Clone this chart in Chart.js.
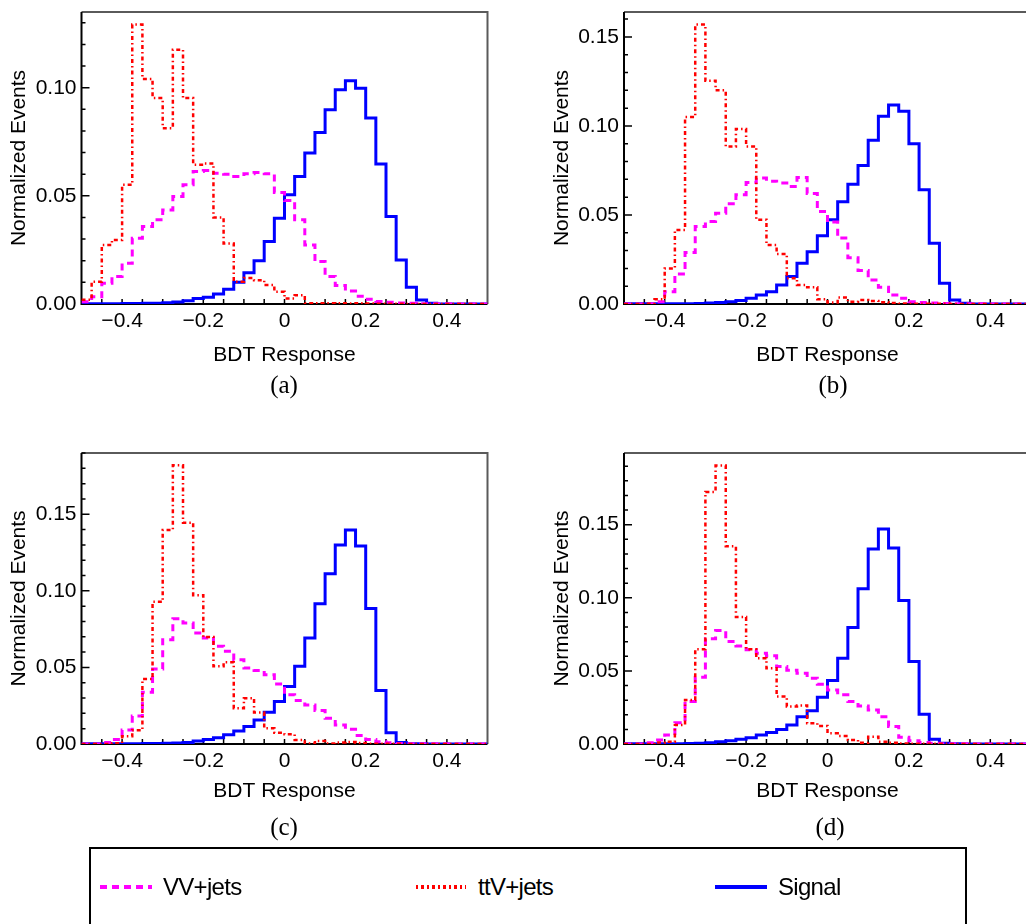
<!DOCTYPE html>
<html>
<head>
<meta charset="utf-8">
<script src="https://cdn.jsdelivr.net/npm/chart.js@4/dist/chart.umd.min.js"></script>
<style>
  html, body { margin: 0; padding: 0; background: #fff; }
  body { width: 1026px; height: 924px; overflow: hidden; position: relative; font-family: 'Liberation Sans', Arial, sans-serif; }
  canvas.panel { position: absolute; }
  .tag { position: absolute; font-family: 'Liberation Serif', 'Times New Roman', serif; font-size: 25px; color: #000; transform: translate(-50%, -50%); }
  #legendBox { position: absolute; left: 89px; top: 847px; width: 878px; height: 84px; border: 2px solid #000; box-sizing: border-box; }
  .sample { position: absolute; height: 4px; top: 885px; }
  .ltext { position: absolute; top: 887px; font-size: 24px; letter-spacing: -0.7px; color: #000; transform: translateY(-50%); }
</style>
</head>
<body>
<canvas id="panelA" class="panel"></canvas>
<canvas id="panelB" class="panel"></canvas>
<canvas id="panelC" class="panel"></canvas>
<canvas id="panelD" class="panel"></canvas>

<div class="tag" style="left:284px; top:385px;">(a)</div>
<div class="tag" style="left:833px; top:385px;">(b)</div>
<div class="tag" style="left:284px; top:827px;">(c)</div>
<div class="tag" style="left:830px; top:827px;">(d)</div>

<div id="legendBox"></div>
<div class="sample" style="left:100px; width:52px; background:repeating-linear-gradient(90deg, #ff00ff 0 7px, transparent 7px 12px);"></div>
<div class="ltext" id="leg0" style="left:163px;"></div>
<div class="sample" style="left:416px; width:50px; background:repeating-linear-gradient(90deg, #ff0000 0 2px, transparent 2px 5px, #ff0000 5px 8px, transparent 8px 11px);"></div>
<div class="ltext" id="leg1" style="left:478px;"></div>
<div class="sample" style="left:715px; width:52px; background:#0000ff;"></div>
<div class="ltext" id="leg2" style="left:778px;"></div>

<script>
// binning : 40 bins entre -0.5 et 0.5
var binLow = -0.5;
var binHigh = 0.5;

var seriesNames = ["VV+jets", "ttV+jets", "Signal"];
var xTitle = "BDT Response";
var yTitle = "Normalized Events";

var xTickValues = [-0.4, -0.2, 0, 0.2, 0.4];
var xTickLabels = ["\u22120.4", "\u22120.2", "0", "0.2", "0.4"];
var yTickValues = [0, 0.05, 0.10, 0.15];

// maximum de l'axe y de chaque panneau (a, b, c, d)
var yMax = [0.135, 0.164, 0.190, 0.199];

// panneau (a)
var vvA = [0.0010,0.0034,0.0096,0.0127,0.0188,0.0304,0.0358,0.0389,0.0435,0.0497,
  0.0551,0.0613,0.0617,0.0605,0.0600,0.0590,0.0602,0.0608,0.0602,0.0515,
  0.0478,0.0389,0.0273,0.0196,0.0127,0.0085,0.0060,0.0036,0.0022,0.0012,
  0.0008,0.0005,0.0003,0.0001,0.0001,0.0001,0.0001,0,0,0];
var ttvA = [0.0020,0.0103,0.0273,0.0296,0.0551,0.1292,0.1040,0.0952,0.0813,0.1176,
  0.0952,0.0644,0.0650,0.0400,0.0280,0.0103,0.0120,0.0110,0.0088,0.0057,
  0.0026,0.0040,0.0004,0.0003,0.0004,0.0003,0.0002,0.0003,0.0002,0.0001,
  0.0001,0.0001,0,0,0,0,0,0,0,0];
var sigA = [0.0001,0.0001,0.0001,0.0001,0.0002,0.0002,0.0003,0.0004,0.0006,0.0009,
  0.0015,0.0025,0.0031,0.0046,0.0068,0.0101,0.0145,0.0200,0.0289,0.0397,
  0.0505,0.0590,0.0698,0.0793,0.0898,0.0991,0.1032,0.0998,0.0860,0.0647,
  0.0404,0.0204,0.0077,0.0019,0.0003,0,0,0,0,0];

// panneau (b)
var vvB = [0,0,0.0001,0.0013,0.0069,0.0169,0.0289,0.0435,0.0463,0.0510,
  0.0563,0.0613,0.0683,0.0707,0.0690,0.0680,0.0660,0.0710,0.0620,0.0520,
  0.0460,0.0370,0.0260,0.0188,0.0135,0.0094,0.0050,0.0032,0.0013,0.0008,
  0.0005,0.0003,0.0002,0.0001,0.0001,0.0001,0,0,0,0];
var ttvB = [0,0,0.0002,0.0026,0.0200,0.0416,0.1050,0.1570,0.1254,0.1200,
  0.0885,0.0983,0.0885,0.0473,0.0332,0.0281,0.0144,0.0107,0.0094,0.0026,
  0.0008,0.0036,0.0013,0.0022,0.0017,0.0010,0.0005,0.0003,0.0002,0.0002,
  0.0001,0.0001,0,0,0,0,0,0,0,0];
var sigB = [0.0001,0.0001,0.0001,0.0001,0.0001,0.0001,0.0001,0.0003,0.0005,0.0008,
  0.0012,0.0019,0.0032,0.0051,0.0069,0.0107,0.0154,0.0229,0.0294,0.0383,
  0.0473,0.0574,0.0673,0.0778,0.0919,0.1054,0.1118,0.1082,0.0900,0.0641,
  0.0341,0.0116,0.0023,0.0004,0,0,0,0,0,0];

// panneau (c)
var vvC = [0,0,0.0009,0.0030,0.0092,0.0183,0.0338,0.0489,0.0681,0.0817,
  0.0790,0.0725,0.0692,0.0638,0.0605,0.0550,0.0496,0.0480,0.0452,0.0391,
  0.0321,0.0284,0.0255,0.0218,0.0168,0.0124,0.0096,0.0055,0.0030,0.0015,
  0.0008,0.0004,0.0002,0.0001,0.0001,0.0001,0,0,0,0];
var ttvC = [0,0,0,0.0005,0.0050,0.0090,0.0424,0.0928,0.1397,0.1820,
  0.1445,0.0972,0.0699,0.0507,0.0533,0.0234,0.0299,0.0205,0.0103,0.0074,
  0.0063,0.0026,0.0004,0.0020,0.0004,0.0009,0.0013,0.0006,0.0002,0.0002,
  0.0001,0.0001,0,0,0,0,0,0,0,0];
var sigC = [0.0001,0.0001,0.0001,0.0001,0.0002,0.0002,0.0003,0.0004,0.0005,0.0006,
  0.0009,0.0020,0.0030,0.0041,0.0061,0.0085,0.0114,0.0157,0.0207,0.0277,
  0.0376,0.0507,0.0692,0.0915,0.1111,0.1299,0.1397,0.1293,0.0884,0.0349,
  0.0074,0.0009,0.0002,0.0001,0,0,0,0,0,0];

// panneau (d)
var vvD = [0,0,0.0009,0.0027,0.0062,0.0146,0.0290,0.0457,0.0719,0.0776,
  0.0701,0.0671,0.0644,0.0621,0.0603,0.0530,0.0505,0.0484,0.0450,0.0409,
  0.0370,0.0336,0.0290,0.0260,0.0233,0.0187,0.0119,0.0046,0.0023,0.0010,
  0.0005,0.0002,0.0001,0.0001,0,0,0,0,0,0];
var ttvD = [0,0,0,0.0010,0.0016,0.0130,0.0301,0.0648,0.1724,0.1904,
  0.1352,0.0868,0.0648,0.0587,0.0518,0.0324,0.0256,0.0263,0.0142,0.0123,
  0.0073,0.0055,0.0027,0.0009,0.0050,0.0016,0.0009,0.0003,0.0002,0.0002,
  0.0001,0.0001,0,0,0,0,0,0,0,0];
var sigD = [0.0001,0.0001,0.0001,0.0001,0.0001,0.0002,0.0003,0.0005,0.0009,0.0016,
  0.0023,0.0032,0.0043,0.0062,0.0078,0.0100,0.0130,0.0187,0.0228,0.0320,
  0.0434,0.0587,0.0797,0.1062,0.1333,0.1470,0.1340,0.0982,0.0564,0.0203,
  0.0032,0.0005,0.0001,0,0,0,0,0,0,0];

// position des panneaux dans la page (pixels)
var boxes = [
  {left: 0,   top: 0,   w: 510, h: 380, plotLeft: 81.5, plotRight: 487.5, plotTop: 12, plotBottom: 304, yTitleX: 19},
  {left: 540, top: 0,   w: 500, h: 380, plotLeft: 84,   plotRight: 491,   plotTop: 12, plotBottom: 304, yTitleX: 22},
  {left: 0,   top: 440, w: 510, h: 376, plotLeft: 81.5, plotRight: 487.5, plotTop: 13, plotBottom: 304, yTitleX: 19},
  {left: 540, top: 440, w: 500, h: 376, plotLeft: 84,   plotRight: 491,   plotTop: 13, plotBottom: 304, yTitleX: 22}
];

Chart.defaults.font.family = "'Liberation Sans', Arial, sans-serif";
Chart.defaults.font.size = 21;
Chart.defaults.color = "#000";

//Histogramme -> points du trace en escalier (bord gauche de chaque bin)
function toSteps(values) {
  var w = (binHigh - binLow) / values.length;
  var pts = values.map(function(v, i) { return {x: binLow + i * w, y: v}; });
  pts.push({x: binHigh, y: values[values.length - 1]});
  return pts;
}

//Cadre et graduations vers l'interieur
var axisFrame = {
  id: 'axisFrame',
  beforeDatasetsDraw: function(chart) {
    var c = chart.ctx, a = chart.chartArea;
    var xs = chart.scales.x, ys = chart.scales.y;
    c.save();
    c.lineWidth = 2;
    c.strokeStyle = '#5a5a5a';
    c.beginPath();
    c.moveTo(a.left, a.top); c.lineTo(a.right, a.top); c.lineTo(a.right, a.bottom);
    c.stroke();
    c.strokeStyle = '#000';
    c.beginPath();
    c.moveTo(a.left, a.top); c.lineTo(a.left, a.bottom); c.lineTo(a.right, a.bottom);
    c.stroke();
    c.lineWidth = 1.5;
    c.beginPath();
    for (var k = 1; k * 0.01 <= ys.max + 1e-9; k++) {
      var py = ys.getPixelForValue(k * 0.01);
      var len = (k % 5 == 0) ? 8 : 4;
      c.moveTo(a.left, py); c.lineTo(a.left + len, py);
    }
    for (var j = -9; j <= 9; j++) {
      var px = xs.getPixelForValue(j * 0.05);
      c.moveTo(px, a.bottom); c.lineTo(px, a.bottom - 5);
    }
    c.stroke();
    c.restore();
  }
};

function makePanel(id, box, ymax, vv, ttv, sig) {
  var canvas = document.getElementById(id);
  canvas.width = box.w;
  canvas.height = box.h;
  canvas.style.left = box.left + 'px';
  canvas.style.top = box.top + 'px';
  var ctx = canvas.getContext('2d');
  return new Chart(ctx, {
    type: 'line',
    data: {
      datasets: [{
        label: seriesNames[0],
        data: toSteps(vv),
        borderColor: '#ff00ff',
        borderWidth: 3,
        borderDash: [7, 5],
        order: 1
      }, {
        label: seriesNames[1],
        data: toSteps(ttv),
        borderColor: '#ff0000',
        borderWidth: 2.5,
        borderDash: [4, 3, 1.5, 3],
        order: 0
      }, {
        label: seriesNames[2],
        data: toSteps(sig),
        borderColor: '#0000ff',
        borderWidth: 3,
        order: 2
      }]
    },
    options: {
      responsive: false,
      animation: false,
      devicePixelRatio: 1,
      datasets: {
        line: { stepped: 'before', pointRadius: 0, fill: false, borderJoinStyle: 'miter', borderCapStyle: 'butt' }
      },
      layout: { padding: { left: 0, top: box.plotTop, right: box.w - box.plotRight, bottom: 0 } },
      plugins: { legend: { display: false }, tooltip: { enabled: false } },
      scales: {
        x: {
          type: 'linear',
          min: binLow,
          max: binHigh,
          afterFit: function(s) { s.height = box.h - box.plotBottom; s.paddingLeft = 0; s.paddingRight = 0; },
          afterBuildTicks: function(s) { s.ticks = xTickValues.map(function(v) { return {value: v}; }); },
          ticks: {
            autoSkip: false, maxRotation: 0, padding: 4.4,
            callback: function(v, i) { return xTickLabels[i]; }
          },
          grid: { display: false, drawTicks: false },
          border: { display: false },
          title: { display: true, text: xTitle, padding: { top: 0, bottom: 12.4 } }
        },
        y: {
          type: 'linear',
          min: 0,
          max: ymax,
          afterFit: function(s) { s.width = box.plotLeft; s.paddingTop = 0; s.paddingBottom = 0; },
          afterBuildTicks: function(s) {
            s.ticks = yTickValues.filter(function(v) { return v <= ymax; }).map(function(v) { return {value: v}; });
          },
          ticks: {
            padding: 5,
            callback: function(v) { return v.toFixed(2); }
          },
          grid: { display: false, drawTicks: false },
          border: { display: false },
          title: { display: true, text: yTitle, padding: { top: box.yTitleX - 12.6, bottom: 0 } }
        }
      }
    },
    plugins: [axisFrame]
  });
}

makePanel('panelA', boxes[0], yMax[0], vvA, ttvA, sigA);
makePanel('panelB', boxes[1], yMax[1], vvB, ttvB, sigB);
makePanel('panelC', boxes[2], yMax[2], vvC, ttvC, sigC);
makePanel('panelD', boxes[3], yMax[3], vvD, ttvD, sigD);

//Legende commune
for (var n = 0; n < seriesNames.length; n++) {
  document.getElementById('leg' + n).textContent = seriesNames[n];
}
</script>
</body>
</html>
